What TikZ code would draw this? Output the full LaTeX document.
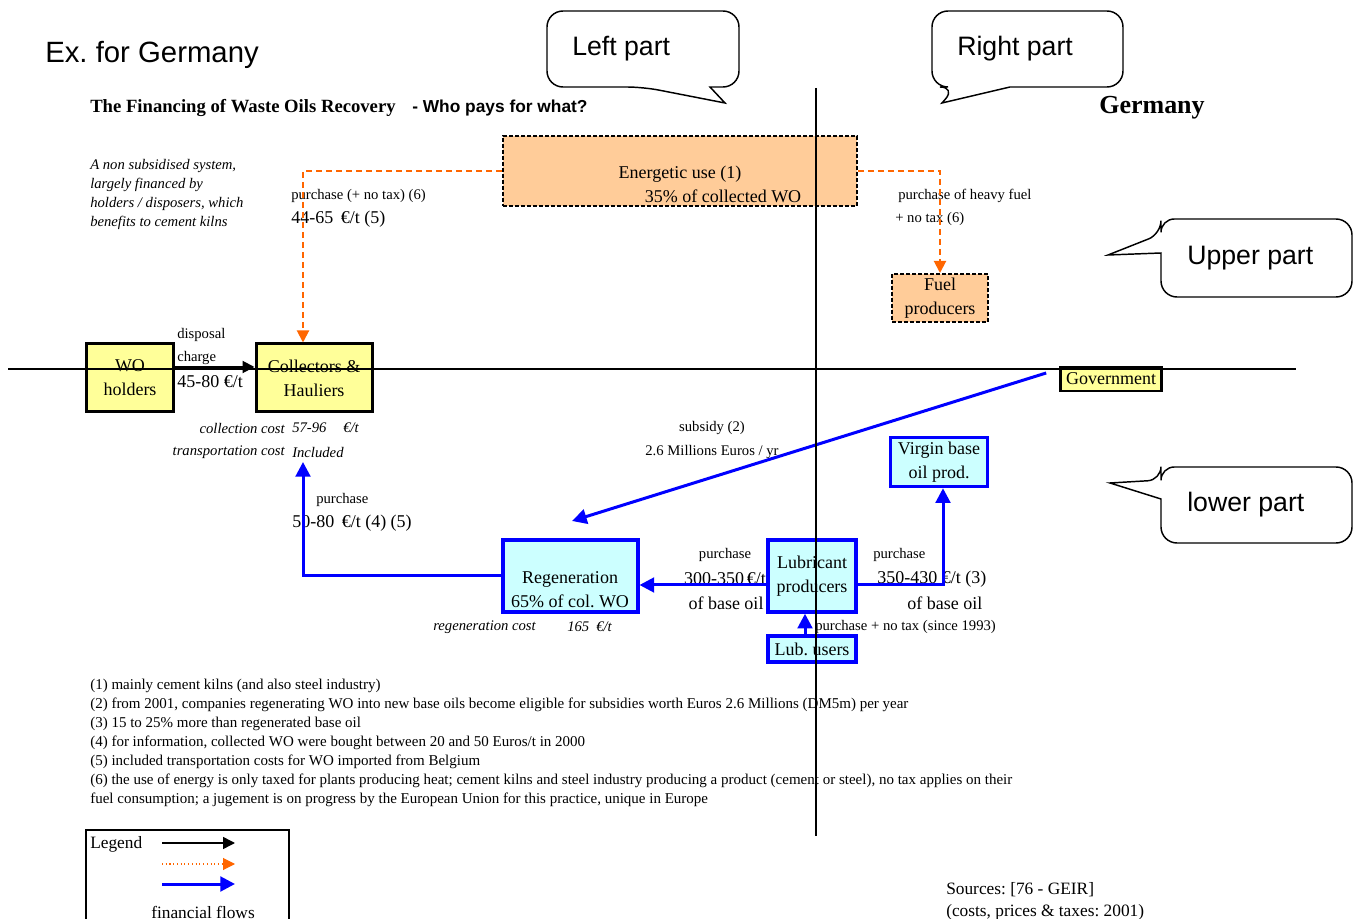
\documentclass[tikz,border=0pt]{standalone}
\usepackage{fontspec}
\setmainfont{Liberation Serif}
\newfontfamily\arialfont{Liberation Sans}
\usetikzlibrary{arrows.meta,calc}
\frenchspacing

\definecolor{peach}{HTML}{FFCC99}
\definecolor{paleyellow}{HTML}{FFFF99}
\definecolor{palecyan}{HTML}{CCFFFF}
\definecolor{flowblue}{HTML}{0000FF}
\definecolor{floworange}{HTML}{FF6600}

\begin{document}
\begin{tikzpicture}[x=0.75pt,y=-0.75pt,
  boxtxt/.style={font=\fontsize{13.5}{18}\selectfont, align=center, inner sep=0pt},
  smalltxt/.style={font=\fontsize{11}{13}\selectfont, inner sep=0pt},
  itxt/.style={font=\fontsize{11}{13}\selectfont\itshape, inner sep=0pt},
  bigtxt/.style={font=\fontsize{13.5}{16}\selectfont, inner sep=0pt},
  yellowbox/.style={boxtxt, draw=black, line width=2.25pt, fill=paleyellow},
  cyanbox/.style={boxtxt, draw=flowblue, line width=2.6pt, fill=palecyan},
  peachbox/.style={boxtxt, draw=black, line width=1.5pt, dash pattern=on 3pt off 1.5pt, fill=peach},
  callout/.style={draw=black, line width=1.1pt, fill=white},
  callouttxt/.style={font=\arialfont\fontsize{20}{24}\selectfont, inner sep=0pt, anchor=west},
  orangeflow/.style={draw=floworange, line width=1.5pt, dash pattern=on 4.5pt off 3pt, -{Triangle[length=9pt,width=9pt]}},
  blueflow/.style={draw=flowblue, line width=2.25pt, -{Triangle[length=11pt,width=11pt]}},
  blackflow/.style={draw=black, line width=1.5pt, -{Triangle[length=9pt,width=9pt]}},
  axisline/.style={draw=black, line width=1.1pt}
]
\useasboundingbox (0,0) rectangle (1361,919);

% ---------- headings ----------
\node[anchor=base west, inner sep=0pt, font=\arialfont\fontsize{22}{26}\selectfont] (exde) at (45,63) {Ex. for Germany};
\node[anchor=west, inner sep=0pt, font=\fontsize{14}{16}\selectfont\bfseries] (title) at (90,108) {The Financing of Waste Oils Recovery};
\node[anchor=west, inner sep=0pt, font=\arialfont\fontsize{13}{15}\selectfont\bfseries] (subtitle) at (412,108) {- Who pays for what?};
\node[anchor=west, inner sep=0pt, font=\fontsize{19.5}{22}\selectfont\bfseries] (country) at (1099,108) {Germany};

\node[anchor=north west, inner sep=0pt, align=left, font=\fontsize{11}{14.25}\selectfont\itshape] (intro) at (90,159)
  {A non subsidised system,\\largely financed by\\holders / disposers, which\\benefits to cement kilns};

% ---------- callouts ----------
\draw[callout] (640,11) [rounded corners=12pt] -- (547,11) -- (547,87) -- (643,87) [sharp corners] -- (725,103) -- (710,87) [rounded corners=12pt] -- (739,87) -- (739,11) -- cycle;
\node[callouttxt] (leftpart) at (572,49) {Left part};

\draw[callout] (1030,11) [rounded corners=12pt] -- (932,11) -- (932,87) -- (956,87) [sharp corners] -- (942,103) -- (1010,87) [rounded corners=12pt] -- (1123,87) -- (1123,11) -- cycle;
\node[callouttxt] (rightpart) at (957,49) {Right part};

\draw[callout] (1260,219) [rounded corners=10pt] -- (1161,219) -- (1161,234) [sharp corners] -- (1108,255) -- (1161,253) [rounded corners=12pt] -- (1161,297) -- (1352,297) -- (1352,219) -- cycle;
\node[callouttxt] (upperpart) at (1187,258) {Upper part};

\draw[callout] (1260,467) [rounded corners=10pt] -- (1161,467) -- (1161,480) [sharp corners] -- (1110,483) -- (1161,499) [rounded corners=12pt] -- (1161,543) -- (1352,543) -- (1352,467) -- cycle;
\node[callouttxt] (lowerpart) at (1187,505) {lower part};

% ---------- actors ----------
\node[peachbox, minimum width=265.5pt, minimum height=52.5pt] (energ) at (680,171) {};
\node[boxtxt] (energtxt) at (680,184.5) {Energetic use (1)\\\hspace*{64.5pt}35\% of collected WO};
\node[peachbox, minimum width=72pt, minimum height=36pt] (fuel) at (940,298) {Fuel\\producers};

\node[yellowbox, minimum width=65.25pt, minimum height=51pt] (woh) at (130,378) {WO\\holders};
\node[yellowbox, minimum width=87pt, minimum height=51pt] (coll) at (314,378) {Collectors \&\\Hauliers};
\node[boxtxt, draw=black, line width=2pt, fill=paleyellow, minimum width=75.75pt, minimum height=18pt] (gov) at (1111,379) {Government};

\node[cyanbox, minimum width=72.75pt, minimum height=36.75pt] (virgin) at (939,462) {Virgin base\\oil prod.};
\node[cyanbox, line width=3pt, minimum width=101.25pt, minimum height=54pt] (regen) at (570,576) {};
\node[boxtxt] (regentxt) at (570,590) {Regeneration\\65\% of col. WO};
\node[cyanbox, minimum width=66pt, minimum height=54pt] (lubp) at (812,576) {Lubricant\\producers};
\node[cyanbox, minimum width=66pt, minimum height=19.5pt] (lubu) at (812,649) {Lub. users};

% ---------- flow labels ----------
\node[smalltxt, anchor=west] (l1a) at (291,196) {purchase (+ no tax) (6)};
\node[bigtxt, anchor=west] (l1b) at (291,219) {44-65 \,€/t (5)};
\node[smalltxt, anchor=west] (l2a) at (898,196) {purchase of heavy fuel};
\node[smalltxt, anchor=west] (l2b) at (895,219) {+ no tax (6)};

\node[smalltxt, anchor=west] (l3a) at (177,335) {disposal};
\node[smalltxt, anchor=west] (l3b) at (177,358) {charge};
\node[bigtxt, anchor=west] (l3c) at (177,382) {45-80 €/t};

\node[itxt, anchor=east] (l4a) at (285,428) {collection cost};
\node[itxt, anchor=west] (l4b) at (292,428) {57-96};
\node[itxt, anchor=west] (l4c) at (343,428) {€/t};
\node[itxt, anchor=east] (l4d) at (285,452) {transportation cost};
\node[itxt, anchor=west] (l4e) at (292,452) {Included};

\node[smalltxt] (l5a) at (712,428) {subsidy (2)};
\node[smalltxt] (l5b) at (712,452) {2.6 Millions Euros / yr};

\node[smalltxt, anchor=west] (l6a) at (316,500) {purchase};
\node[bigtxt, anchor=west] (l6b) at (292,523) {50-80 \,€/t (4) (5)};

\node[smalltxt] (l7a) at (725,555) {purchase};
\node[bigtxt] (l7b) at (725,579) {300-350\,€/t};
\node[bigtxt] (l7c) at (726,603) {of base oil};

\node[smalltxt, anchor=west] (l8a) at (873,555) {purchase};
\node[bigtxt, anchor=west] (l8b) at (877,579) {350-430 €/t (3)};
\node[bigtxt, anchor=west] (l8c) at (907,603) {of base oil};

\node[itxt, anchor=west] (l9a) at (433,627) {regeneration cost};
\node[itxt, anchor=west] (l9b) at (567,627) {165};
\node[itxt, anchor=west] (l9c) at (596,627) {€/t};
\node[smalltxt, anchor=west] (l9d) at (815,627) {purchase + no tax (since 1993)};

% ---------- flows ----------
\coordinate (collin) at (303,462);
\coordinate (subsend) at (572,521);
\draw[orangeflow] (energ.west) -| ([xshift=-8.25pt]coll.north);
\draw[orangeflow] (energ.east) -| (fuel.north);
\draw[blackflow] ([yshift=8.25pt]woh.east) -- ([yshift=8.25pt]coll.west);
\draw[blueflow] ([xshift=-9.75pt,yshift=4.5pt]gov.west) -- (subsend);
\draw[blueflow] ([yshift=-6.75pt]lubp.west) -- ([yshift=-6.75pt]regen.east);
\draw[blueflow] ([yshift=-6.75pt]lubp.east) -| ([xshift=3pt]virgin.south);
\draw[blueflow] ([xshift=-5.25pt]lubu.north) -- ([xshift=-5.25pt]lubp.south);
\draw[blueflow] (regen.west) -| (collin);

% ---------- axes ----------
\draw[axisline] (8,369) -- (1296,369);
\draw[axisline] (816,88) -- (816,836);

% ---------- notes ----------
\node[anchor=north west, inner sep=0pt, align=left, font=\fontsize{11.25}{14.25}\selectfont] (notes) at (90,679)
  {(1) mainly cement kilns (and also steel industry)\\
   (2) from 2001, companies regenerating WO into new base oils become eligible for subsidies worth Euros 2.6 Millions (DM5m) per year\\
   (3) 15 to 25\% more than regenerated base oil\\
   (4) for information, collected WO were bought between 20 and 50 Euros/t in 2000\\
   (5) included transportation costs for WO imported from Belgium\\
   (6) the use of energy is only taxed for plants producing heat; cement kilns and steel industry producing a product (cement or steel), no tax applies on their\\
   fuel consumption; a jugement is on progress by the European Union for this practice, unique in Europe};

% ---------- legend ----------
\draw[line width=1.6pt] (86,922) -- (86,830) -- (289,830) -- (289,922);
\node[anchor=west, inner sep=0pt, font=\fontsize{13}{15}\selectfont] (legend) at (90,844) {Legend};
\coordinate (lga) at (162,843); \coordinate (lgb) at (235,843);
\coordinate (lgc) at (162,864); \coordinate (lgd) at (235,864);
\coordinate (lge) at (162,884); \coordinate (lgf) at (235,884);
\draw[black, line width=1.1pt, -{Triangle[length=9pt,width=9pt]}] (lga) -- (lgb);
\draw[floworange, line width=0.8pt, dotted, -{Triangle[length=9pt,width=9pt]}] (lgc) -- (lgd);
\draw[flowblue, line width=2.25pt, -{Triangle[length=11pt,width=11pt]}] (lge) -- (lgf);
\node[inner sep=0pt, font=\fontsize{13}{15}\selectfont] (legendcap) at (203,912) {financial flows};

% ---------- sources ----------
\node[anchor=west, inner sep=0pt, font=\fontsize{13}{15}\selectfont] (src1) at (946,890) {Sources: [76 - GEIR]};
\node[anchor=west, inner sep=0pt, font=\fontsize{13}{15}\selectfont] (src2) at (946,912) {(costs, prices \& taxes: 2001)};
\end{tikzpicture}
\end{document}
